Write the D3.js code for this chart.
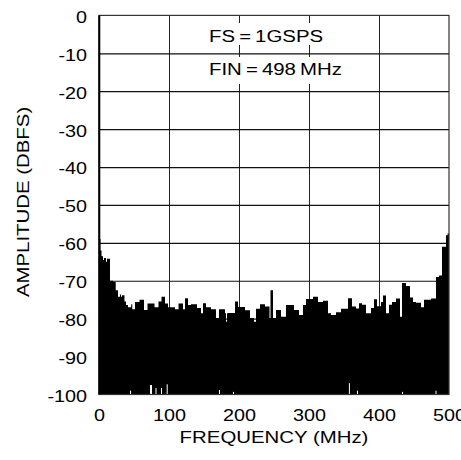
<!DOCTYPE html>
<html><head><meta charset="utf-8">
<script src="https://cdn.jsdelivr.net/npm/d3@7"></script>
<style>body{margin:0;background:#fff}svg{display:block}text{font-family:"Liberation Sans",Arial,sans-serif;fill:#000}</style>
</head><body>
<svg id="c" width="461" height="460"></svg>
<script>
// ---- data ----
const xTicks = [0, 100, 200, 300, 400, 500];
const yTicks = [0, -10, -20, -30, -40, -50, -60, -70, -80, -90, -100];
// FFT noise floor envelope (step start frequency, MHz) and amplitude (dBFS)
const freqMHz = [0,1.1,2.1,3.6,5.7,7.1,10,11.4,15.7,20.4,23.9,27.1,30,31.4,32.9,36.4,38.6,41.4,46,47.5,51.4,57.9,64.3,69.3,79.3,85,89.3,94.3,98.6,108.6,113.6,120,122.9,127.1,131.4,140,145.7,148.6,152.9,160,167.1,171.4,180,181.4,182.9,184.3,194.3,198.6,208.6,215.7,221.4,224.3,230,237.1,243.6,245,248.6,252.9,260,267.1,278.6,285.7,291.4,295.7,305.7,312.9,320,327.1,331.4,338.6,345.7,355.7,361.4,367.1,371.4,375.7,381.4,388.6,392.9,397.1,402.9,405.7,410,414.3,418.6,424.3,430,432.9,438.6,444.3,448.6,452.9,460,464.3,474.3,481.4,485.7,490,495.7,498,500];
const amplitudeDBFS = [-56,-59,-62,-63.5,-64.5,-64,-65,-64.2,-70,-70.3,-72.5,-74.2,-73.6,-74.2,-73.8,-75.5,-76.4,-77,-76.2,-77.5,-75.6,-75,-77.7,-76,-77,-75.5,-74.2,-76,-77,-77.5,-76,-77.5,-74.6,-76.4,-76.2,-77.2,-78.6,-75.9,-77,-77.5,-79.8,-77.5,-78.6,-80.8,-78.6,-78.5,-75.5,-76.9,-77.8,-79.8,-80.8,-77.4,-76.2,-76.8,-79.8,-72.5,-79.8,-77.7,-79.5,-76.4,-77.7,-79,-76.4,-74.8,-74.2,-75.6,-75.3,-78.6,-79,-78.3,-77.4,-74.6,-76.8,-77.3,-75.9,-76.3,-78.6,-77.2,-74.9,-76.7,-75.6,-73.9,-78.6,-76.3,-75.6,-74.7,-79.5,-70.6,-71.4,-74.4,-75.6,-75.8,-77,-75,-74.7,-69,-68.6,-61,-58,-57.5,-57.5];
// bins near the floor that stop short of -100 dBFS
const gapFreqMHz = [44.3, 72.9, 74.3, 80.7, 88.6, 96.7, 171.4, 191.4, 357, 368.6, 432.9, 480.7];
const gapTopDBFS = [-99, -97.5, -97.5, -98.3, -98.3, -97.3, -98.8, -99.3, -97, -99, -99.3, -99];
const notes = ["FS\u2009=\u20091GSPS", "FIN\u2009=\u2009498\u2009MHz"];

// ---- layout ----
const L = 99, R = 449, T = 15.4, B = 394.5;
const svg = d3.select("#c");
const x = d3.scaleLinear().domain([0, 500]).range([L, R]);
const y = d3.scaleLinear().domain([-100, 0]).range([B, T]);
const SX = 1.2;

// grid
svg.append("g").attr("transform", `translate(0,${B})`)
  .call(d3.axisBottom(x).tickValues(xTicks.slice(1, -1)).tickSize(-(B - T)).tickFormat(""))
  .call(g => g.select(".domain").remove())
  .call(g => g.selectAll("line").attr("stroke", "#222").attr("stroke-width", 1));
svg.append("g").attr("transform", `translate(${L},0)`)
  .call(d3.axisLeft(y).tickValues(yTicks.slice(1, -1)).tickSize(-(R - L)).tickFormat(""))
  .call(g => g.select(".domain").remove())
  .call(g => g.selectAll("line").attr("stroke", "#111").attr("stroke-width", 1.2));

// spectrum
const pts = freqMHz.map((f, i) => [f, amplitudeDBFS[i]]);
svg.append("path").datum(pts)
  .attr("d", d3.area().curve(d3.curveStepAfter).x(d => x(d[0])).y0(y(-100)).y1(d => y(d[1])))
  .attr("fill", "#000");
svg.append("g").selectAll("rect").data(gapFreqMHz).join("rect")
  .attr("x", d => x(d)).attr("width", 1)
  .attr("y", (d, i) => y(gapTopDBFS[i])).attr("height", (d, i) => y(-100) - y(gapTopDBFS[i]))
  .attr("fill", "#fff");

// frame
svg.append("rect").attr("x", L).attr("y", T).attr("width", R - L).attr("height", B - T)
  .attr("fill", "none").attr("stroke", "#333").attr("stroke-width", 1.2);
svg.append("line").attr("x1", L + 0.3).attr("x2", L + 0.3).attr("y1", T).attr("y2", B)
  .attr("stroke", "#000").attr("stroke-width", 2);

// axes labels
const fs = 16.5;
svg.append("g").attr("transform", `translate(${L},0)`)
  .call(d3.axisLeft(y).tickValues(yTicks).tickSize(0).tickPadding(0).tickFormat(d => d3.format("d")(d).replace("−", "-")))
  .call(g => g.select(".domain").remove())
  .call(g => g.selectAll("text").attr("x", -12 / SX).attr("dy", "0.42em")
    .attr("transform", `scale(${SX},1)`).attr("font-size", fs).attr("font-family", null));
svg.append("g").attr("transform", `translate(0,${B})`)
  .call(d3.axisBottom(x).tickValues(xTicks).tickSize(0).tickFormat(d3.format("d")))
  .call(g => g.select(".domain").remove())
  .call(g => g.selectAll("text").attr("y", 27).attr("dy", 0)
    .attr("transform", `scale(${SX},1)`).attr("font-size", fs).attr("font-family", null));

svg.append("text").attr("transform", `translate(${(L + R) / 2},443) scale(${SX},1)`)
  .attr("text-anchor", "middle").attr("font-size", 17).text("FREQUENCY (MHz)");
svg.append("text").attr("transform", `translate(29,${(T + B) / 2 - 3}) rotate(-90) scale(${SX},1)`)
  .attr("text-anchor", "middle").attr("font-size", 17).text("AMPLITUDE (DBFS)");

// annotations with white backing
const noteY = [41.7, 75];
const boxes = [[205, 23, 120, 22], [205, 57, 142, 27]];
notes.forEach((t, i) => {
  svg.append("rect").attr("x", boxes[i][0]).attr("y", boxes[i][1]).attr("width", boxes[i][2]).attr("height", boxes[i][3]).attr("fill", "#fff");
  svg.append("text").attr("transform", `translate(209,${noteY[i]}) scale(${SX},1)`)
    .attr("font-size", 17).text(t);
});
</script>
</body></html>
